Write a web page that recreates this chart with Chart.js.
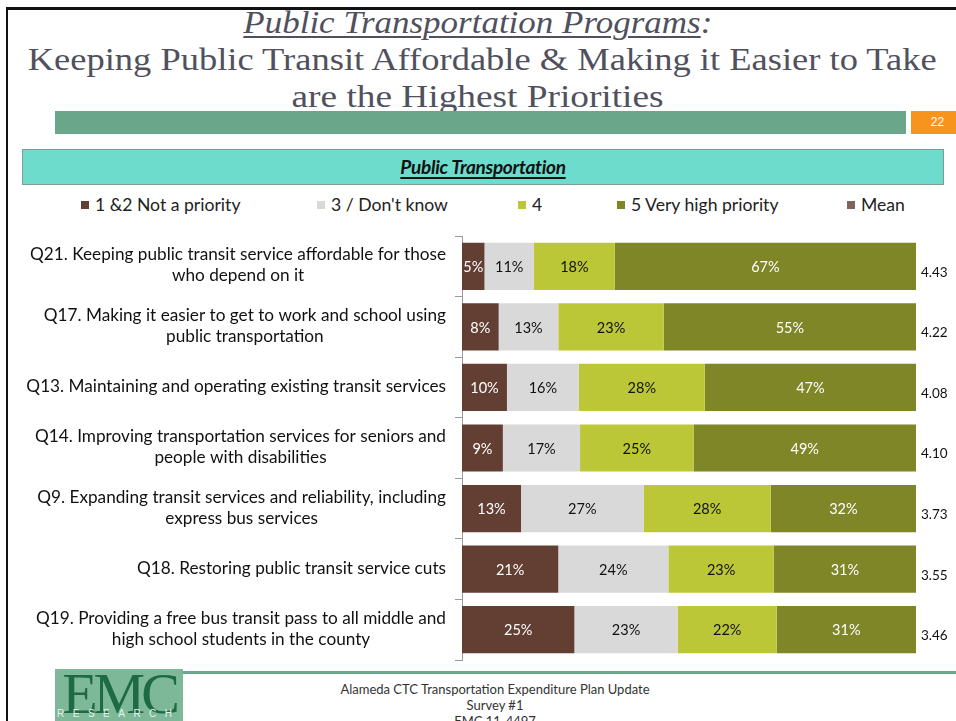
<!DOCTYPE html>
<html>
<head>
<meta charset="utf-8">
<script src="https://cdn.jsdelivr.net/npm/chart.js@4.4.1/dist/chart.umd.min.js"></script>
<style>
  html,body{margin:0;padding:0;background:#fff;}
  body{width:956px;height:721px;position:relative;overflow:hidden;font-family:Lato,"Open Sans",sans-serif;}
  .abs{position:absolute;}
  .title{position:absolute;left:0;width:956px;text-align:center;font-family:"Liberation Serif",serif;color:#50505e;white-space:nowrap;}
  .fit{display:inline-block;transform-origin:center center;}
  .leg{position:absolute;top:194px;font-size:17.6px;color:#222;white-space:nowrap;line-height:22px;}
  .leg i{position:absolute;left:0;top:7px;width:8px;height:8px;}
  .leg span{position:absolute;white-space:nowrap;}
  #chartWrap{position:absolute;left:0;top:226px;width:956px;height:444px;}
</style>
</head>
<body>
<!-- slide frame -->
<div class="abs" style="left:6px;top:7px;width:960px;height:3px;background:#111;"></div>
<div class="abs" style="left:6px;top:7px;width:2px;height:720px;background:#111;"></div>

<div class="title" style="top:5px;font-size:31px;"><span class="fit" data-w="469" style="font-style:italic;"><span style="text-decoration:underline;text-decoration-thickness:1.5px;text-underline-offset:3px;">Public Transportation Programs</span>:</span></div>
<div class="title" style="top:42px;font-size:31px;"><span class="fit" data-w="909" style="position:relative;left:4px;">Keeping Public Transit Affordable &amp; Making it Easier to Take</span></div>
<div class="title" style="top:79px;font-size:31px;"><span class="fit" data-w="372">are the Highest Priorities</span></div>

<div class="abs" style="left:55px;top:111px;width:851px;height:23px;background:#6aa78a;"></div>
<div class="abs" style="left:911px;top:111px;width:45px;height:23px;background:#f7941d;color:#fff;font-family:'Liberation Sans',sans-serif;font-size:12px;line-height:23px;text-align:center;"><span style="position:relative;left:4px;">22</span></div>

<div class="abs" style="left:22px;top:149px;width:920px;height:34px;background:#6ddccd;border:1px solid #7e9c98;"></div>
<div class="abs" style="left:22px;top:149px;width:922px;height:36px;text-align:center;line-height:36px;font-size:19px;font-weight:bold;font-style:italic;color:#111;"><span style="text-decoration:underline;text-decoration-thickness:2px;text-underline-offset:3px;letter-spacing:-0.3px;">Public Transportation</span></div>

<div id="legend"></div>

<div id="chartWrap"><canvas id="c" width="956" height="444"></canvas></div>

<!-- footer -->
<div class="abs" style="left:183px;top:671px;width:780px;height:3px;background:#6aa78a;"></div>
<div class="abs" style="left:55px;top:669px;width:128px;height:60px;background:#7db898;overflow:hidden;">
  <div class="abs" style="left:-2px;top:-9px;width:132px;text-align:center;font-family:'Liberation Serif',serif;font-size:58px;color:#1d6a44;letter-spacing:-4px;">EMC</div>
  <div class="abs" style="left:2px;top:39px;width:140px;font-family:'Liberation Sans',sans-serif;font-size:10px;color:#e8f2ec;letter-spacing:8.5px;">RESEARCH</div>
</div>
<div class="abs" style="left:295px;top:681px;width:400px;text-align:center;font-size:13px;line-height:16px;color:#333;">Alameda CTC Transportation Expenditure Plan Update<br>Survey #1<br>EMC 11-4497</div>

<script>
// ---------- data ----------
const categories = [
  ["Q21. Keeping public transit service affordable for those", "who depend on it"],
  ["Q17. Making it easier to get to work and school using", "public transportation"],
  ["Q13. Maintaining and operating existing transit services"],
  ["Q14. Improving transportation services for seniors and", "people with disabilities"],
  ["Q9. Expanding transit services and reliability, including", "express bus services"],
  ["Q18. Restoring public transit service cuts"],
  ["Q19. Providing a free bus transit pass to all middle and", "high school students in the county"]
];
const seriesNames = ["1 &2 Not a priority", "3 / Don't know", "4", "5 Very high priority"];
const notPriority = [5, 8, 10, 9, 13, 21, 25];
const dontKnow    = [11, 13, 16, 17, 27, 24, 23];
const four        = [18, 23, 28, 25, 28, 23, 22];
const veryHigh    = [67, 55, 47, 49, 32, 31, 31];
const means       = [4.43, 4.22, 4.08, 4.10, 3.73, 3.55, 3.46];

const colors = ["#633f33", "#d9d9d9", "#bcc737", "#7f8628"];
const meanColor = "#7f6560";
const labelColors = ["#ffffff", "#111111", "#111111", "#ffffff"];

// ---------- title fit ----------
document.querySelectorAll('.fit').forEach(el => {
  const w = el.getBoundingClientRect().width;
  const t = +el.dataset.w;
  el.style.transform = 'scaleX(' + (t / w) + ')';
});

// ---------- legend ----------
const legendItems = [
  {x: 81, text: seriesNames[0], color: colors[0]},
  {x: 317, text: seriesNames[1], color: colors[1]},
  {x: 518, text: seriesNames[2], color: colors[2]},
  {x: 617, text: seriesNames[3], color: colors[3]},
  {x: 847, text: "Mean", color: meanColor}
];
const lg = document.getElementById('legend');
legendItems.forEach(it => {
  const d = document.createElement('div');
  d.className = 'leg';
  d.style.left = it.x + 'px';
  d.innerHTML = '<i style="background:' + it.color + '"></i><span style="left:14px">' + it.text.replace(/&/g,'&amp;') + '</span>';
  lg.appendChild(d);
});

// ---------- chart ----------
const raw = [notPriority, dontKnow, four, veryHigh];
const totals = notPriority.map((_, i) => raw.reduce((s, a) => s + a[i], 0));
const scaled = raw.map(a => a.map((v, i) => v / totals[i] * 100));

const segLabels = {
  id: 'segLabels',
  afterDatasetsDraw(chart) {
    const ctx = chart.ctx;
    ctx.save();
    ctx.font = '14.5px Lato';
    ctx.textAlign = 'center';
    ctx.textBaseline = 'middle';
    chart.data.datasets.forEach((ds, di) => {
      const meta = chart.getDatasetMeta(di);
      meta.data.forEach((bar, i) => {
        const p = bar.getProps(['x', 'y', 'base'], true);
        ctx.fillStyle = labelColors[di];
        ctx.fillText(raw[di][i] + '%', (p.x + p.base) / 2, p.y + 1);
      });
    });
    ctx.restore();
  }
};

const sideLabels = {
  id: 'sideLabels',
  afterDraw(chart) {
    const ctx = chart.ctx;
    const ys = chart.scales.y;
    const area = chart.chartArea;
    ctx.save();
    ctx.textBaseline = 'middle';
    ctx.font = '17.2px Lato';
    ctx.fillStyle = '#111';
    categories.forEach((lines, i) => {
      const cy = ys.getPixelForValue(i);
      const w = Math.max(...lines.map(l => ctx.measureText(l).width));
      const cx = 446 - w / 2;
      const lh = 21;
      ctx.textAlign = 'center';
      lines.forEach((l, k) => {
        ctx.fillText(l, cx, cy + (k - (lines.length - 1) / 2) * lh - 1);
      });
    });
    ctx.font = '13.5px Lato';
    ctx.textAlign = 'left';
    means.forEach((m, i) => {
      const cy = ys.getPixelForValue(i);
      ctx.fillText(m.toFixed(2), area.right + 5, cy + 6);
    });
    ctx.restore();
  }
};

new Chart(document.getElementById('c'), {
  type: 'bar',
  data: {
    labels: categories.map(c => c.join(' ')),
    datasets: seriesNames.map((n, di) => ({
      label: n,
      data: scaled[di],
      backgroundColor: colors[di],
      borderWidth: 0,
      barPercentage: 0.78,
      categoryPercentage: 1.0
    }))
  },
  options: {
    indexAxis: 'y',
    responsive: false,
    animation: false,
    layout: {padding: {top: 10, bottom: 10, left: 0, right: 40}},
    plugins: {legend: {display: false}, tooltip: {enabled: false}},
    scales: {
      x: {stacked: true, min: 0, max: 100, display: false},
      y: {
        stacked: true,
        grid: {display: true, drawOnChartArea: false, drawTicks: true, tickLength: 7, color: '#9a9a9a', offset: true},
        border: {display: true, color: '#9a9a9a', width: 1},
        ticks: {display: false},
        afterFit(scale) { scale.width = 462; }
      }
    }
  },
  plugins: [segLabels, sideLabels]
});
</script>
</body>
</html>
